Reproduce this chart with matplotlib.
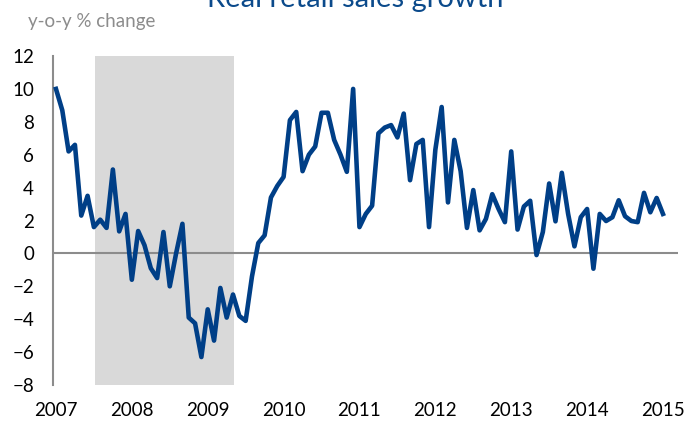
import matplotlib
matplotlib.use("Agg")
import matplotlib.pyplot as plt

# monthly y-o-y % change, Jan 2007 .. Jan 2015
growth = [
    10.0, 8.7, 6.2, 6.6, 2.3, 3.5, 1.6, 2.05, 1.55, 5.1, 1.34, 2.4,
    -1.6, 1.36, 0.5, -0.9, -1.5, 1.3, -2.0, 0.0, 1.8, -3.9, -4.25, -6.3,
    -3.4, -5.3, -2.1, -3.9, -2.5, -3.8, -4.1, -1.4, 0.63, 1.1, 3.4, 4.1,
    4.65, 8.1, 8.6, 5.0, 6.0, 6.5, 8.55, 8.55, 6.9, 6.0, 4.96, 10.0,
    1.6, 2.4, 2.9, 7.3, 7.65, 7.8, 7.05, 8.5, 4.45, 6.65, 6.9, 1.6,
    6.3, 8.9, 3.1, 6.9, 5.0, 1.55, 3.85, 1.4, 2.1, 3.6, 2.7, 1.9,
    6.2, 1.45, 2.85, 3.2, -0.1, 1.3, 4.25, 1.95, 4.9, 2.4, 0.43, 2.2,
    2.7, -0.93, 2.4, 1.97, 2.2, 3.23, 2.26, 1.97, 1.9, 3.68, 2.5, 3.37,
    2.4,
]
years = ["2007", "2008", "2009", "2010", "2011", "2012", "2013", "2014", "2015"]
recession = (6.2, 28.2)  # shaded period, in months from Jan 2007

plt.rcParams['font.family'] = ['Lato', 'DejaVu Sans']

fig = plt.figure(figsize=(6.85, 4.23), dpi=100)
ax = fig.add_axes([0.078, 0.0898, 0.912, 0.7778])

months = list(range(len(growth)))
ax.axvspan(recession[0], recession[1], color='#D9D9D9', lw=0, zorder=0)
ax.axhline(0, color='#8C8C8C', lw=1.5, zorder=1)
ax.plot(months, growth, color='#003F87', lw=3.3, solid_joinstyle='round', zorder=3)

ax.set_xlim(-0.4, 98.4)
ax.set_ylim(-8, 12)
ax.set_yticks(range(-8, 13, 2))
ax.set_xticks(range(0, 97, 12))
ax.set_xticklabels(years)
ax.tick_params(axis='y', length=0, pad=14, labelsize=13.5)
ax.tick_params(axis='x', length=0, pad=12, labelsize=13.5)

for s in ['top', 'right', 'bottom']:
    ax.spines[s].set_visible(False)
ax.spines['left'].set_color('#8C8C8C')
ax.spines['left'].set_linewidth(1.5)

# title is partly cropped at the top edge, as in the original
fig.text(0.518, 1 - 7 / 423, "Real retail sales growth", ha='center', va='baseline',
         fontsize=21, color='#0B4A8B')
fig.text(28 / 685, 1 - 22 / 423, "y-o-y % change", ha='left', va='center',
         fontsize=13.5, color='#8C8C8C')

fig.savefig("out.png", dpi=100)
